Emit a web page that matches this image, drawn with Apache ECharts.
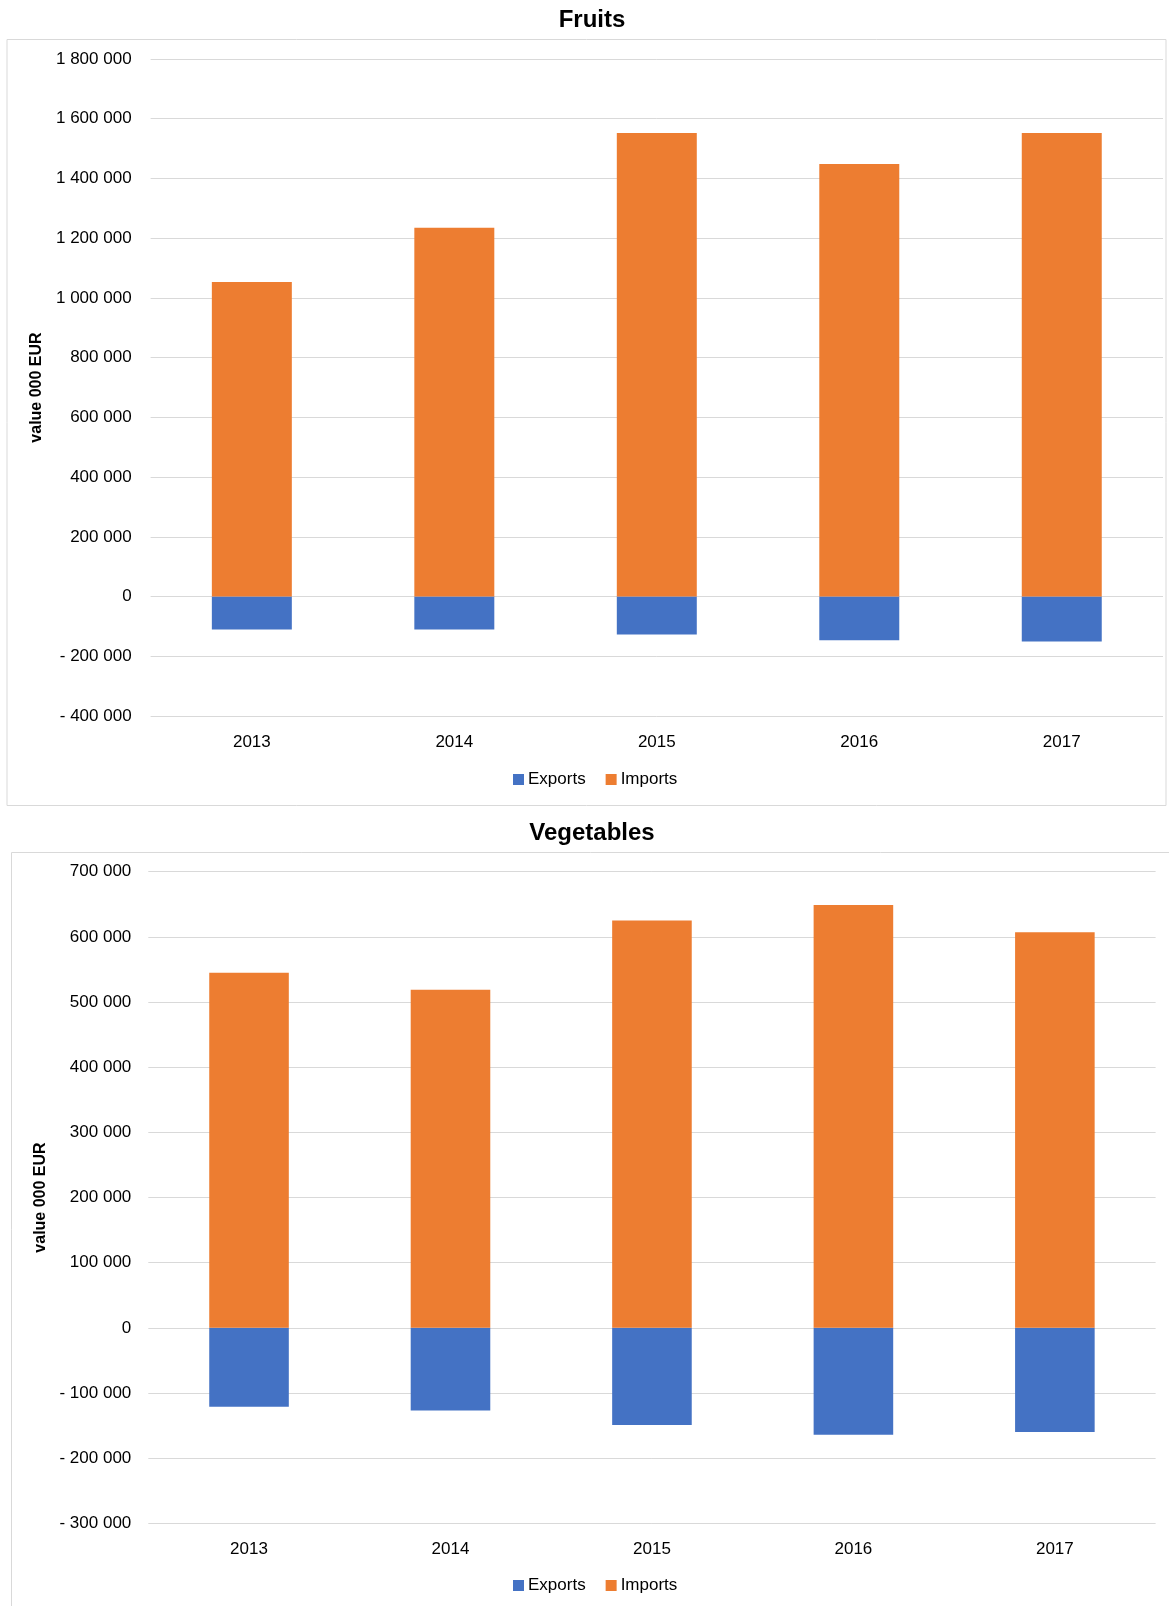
<!DOCTYPE html>
<html>
<head>
<meta charset="utf-8">
<script src="https://cdn.jsdelivr.net/npm/echarts@6/dist/echarts.min.js"></script>
<style>
html,body{margin:0;padding:0;background:#fff;}
#c{width:1169px;height:1606px;}
</style>
</head>
<body>
<div id="c"></div>
<script>
const years = ['2013', '2014', '2015', '2016', '2017'];
const seriesNames = ['Exports', 'Imports'];
const fruitsExports = [-110500, -110500, -127000, -146000, -150500];
const fruitsImports = [1053000, 1235000, 1552000, 1448000, 1552000];
const vegExports = [-121000, -127000, -149000, -164000, -160000];
const vegImports = [545000, 519000, 625000, 649000, 607000];
const fruitsAxis = [-400000, 1800000, 200000];
const vegAxis = [-300000, 700000, 100000];
const titles = ['Fruits', 'Vegetables'];
const yName = 'value 000 EUR';

const FONT = '"Liberation Sans", Arial, sans-serif';
const colors = ['#4472C4', '#ED7D31'];

function fmt(v) {
  if (v === 0) return '0';
  const s = Math.abs(v).toString().replace(/\B(?=(\d{3})+(?!\d))/g, ' ');
  return v < 0 ? '- ' + s : s;
}

const chart = echarts.init(document.getElementById('c'), null, {renderer: 'canvas'});

function yAxis(idx, ax, nameGap, margin) {
  return {
    type: 'value', gridIndex: idx, min: ax[0], max: ax[1], interval: ax[2],
    name: yName, nameLocation: 'middle', nameRotate: 90, nameGap: nameGap,
    nameTextStyle: {fontFamily: FONT, fontSize: 16, fontWeight: 'bold', color: '#000'},
    axisLine: {show: false}, axisTick: {show: false},
    axisLabel: {formatter: fmt, fontFamily: FONT, fontSize: 17, color: '#000', margin: margin},
    splitLine: {lineStyle: {color: '#d9d9d9', width: 1}}
  };
}
function xAxis(idx) {
  return {
    type: 'category', gridIndex: idx, data: years, position: 'bottom',
    axisLine: {show: false, onZero: false}, axisTick: {show: false},
    axisLabel: {fontFamily: FONT, fontSize: 17, color: '#000', margin: 18}
  };
}
function bar(name, data, idx, color) {
  return {
    name: name, type: 'bar', stack: 'g' + idx, xAxisIndex: idx, yAxisIndex: idx,
    data: data, barWidth: '39.5%', itemStyle: {color: color}
  };
}

chart.setOption({
  animation: false,
  color: colors,
  graphic: [
    {type: 'rect', shape: {x: 7, y: 39.5, width: 1159, height: 766}, style: {fill: 'none', stroke: '#d9d9d9', lineWidth: 1}, z: -1},
    {type: 'rect', shape: {x: 11.5, y: 852.5, width: 1160, height: 800}, style: {fill: 'none', stroke: '#d9d9d9', lineWidth: 1}, z: -1}
  ],
  title: [
    {text: titles[0], left: 587, textAlign: 'center', top: 3, textStyle: {fontFamily: FONT, fontSize: 24, fontWeight: 'bold', color: '#000'}},
    {text: titles[1], left: 587, textAlign: 'center', top: 816, textStyle: {fontFamily: FONT, fontSize: 24, fontWeight: 'bold', color: '#000'}}
  ],
  legend: [
    {data: seriesNames, left: 513, top: 771, icon: 'rect', itemWidth: 11, itemHeight: 11, itemGap: 20,
     textStyle: {fontFamily: FONT, fontSize: 17, color: '#000', padding: [0, 0, 0, -1]}, padding: 0},
    {data: seriesNames, left: 513, top: 1577, icon: 'rect', itemWidth: 11, itemHeight: 11, itemGap: 20,
     textStyle: {fontFamily: FONT, fontSize: 17, color: '#000', padding: [0, 0, 0, -1]}, padding: 0}
  ],
  grid: [
    {left: 150.6, right: 6, top: 59, height: 657},
    {left: 148.3, right: 13.4, top: 871.7, height: 651.6}
  ],
  xAxis: [xAxis(0), xAxis(1)],
  yAxis: [yAxis(0, fruitsAxis, 105, 19), yAxis(1, vegAxis, 96, 17)],
  series: [
    bar(seriesNames[0], fruitsExports, 0, colors[0]),
    bar(seriesNames[1], fruitsImports, 0, colors[1]),
    bar(seriesNames[0], vegExports, 1, colors[0]),
    bar(seriesNames[1], vegImports, 1, colors[1])
  ]
});
</script>
</body>
</html>
